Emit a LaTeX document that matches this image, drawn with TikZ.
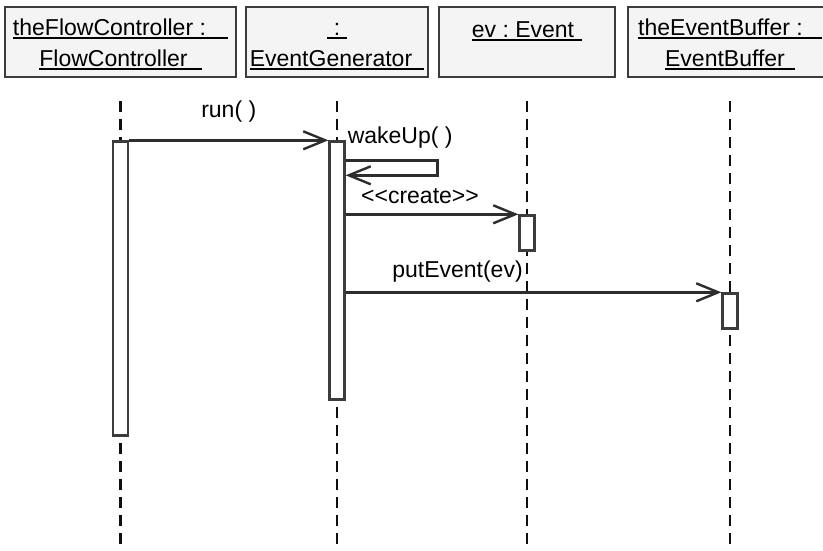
\documentclass[tikz,border=0pt]{standalone}
\usepackage{fontspec}
\setmainfont{Liberation Sans}
\usepackage{xcolor}
\usepackage{tikz}
\usetikzlibrary{positioning, arrows.meta, calc}
\definecolor{boxfill}{RGB}{244,244,244}
\definecolor{boxline}{RGB}{60,60,60}
\definecolor{msgline}{RGB}{45,45,45}
\definecolor{lifegray}{RGB}{15,15,15}
\frenchspacing

% underlined object names (with underlined trailing space)
\newsavebox\ulbox
\newcommand{\ulx}[2][0pt]{\sbox\ulbox{#2\hspace{#1}}%
  \rlap{\rule[-3.8pt]{\wd\ulbox}{1.9pt}}\usebox\ulbox}

\begin{document}
\begin{tikzpicture}[x=1pt, y=-1pt,
  obj/.style={rectangle, draw=boxline, fill=boxfill, line width=2.6pt,
              minimum height=70pt, inner sep=0pt,
              align=center, font=\fontsize{23}{31}\selectfont},
  act/.style={rectangle, draw=boxline, fill=white, line width=2.2pt,
              minimum width=15pt, inner sep=0pt},
  life/.style={draw=lifegray, line width=2.8pt, dash pattern=on 11pt off 7pt},
  msg/.style={-{Straight Barb[length=22pt, width=18pt]}, line width=2.4pt, draw=msgline},
  lbl/.style={font=\fontsize{23}{27}\selectfont, inner sep=0pt}
]
\useasboundingbox (0,0) rectangle (823,550);
\clip (0,0) rectangle (823,550);

% Object boxes
\node[obj, minimum width=231pt] (flow) at (120.5,42)
  {\rule{0pt}{21pt}\ulx[22pt]{theFlowController :}\\\ulx[14pt]{FlowController}};
\node[obj, minimum width=182pt] (gen)  at (337,42)
  {\rule{0pt}{21pt}\ulx[7pt]{\hspace{7pt}:}\\\ulx[12pt]{EventGenerator}};
\node[obj, minimum width=176pt] (ev)   at (527,42)
  {\rule{0pt}{21pt}\ulx[8pt]{ev : Event}\\\phantom{E}};
\node[obj, minimum width=204pt] (buf)  at (730,42)
  {\rule{0pt}{21pt}\ulx[19pt]{theEventBuffer :}\\\ulx[10pt]{EventBuffer}};

% Lifelines
\foreach \o in {flow, gen, ev, buf}
  \draw[life] ([yshift=-23pt]\o.south) -- (\o.south |- 0,560);

% Activations
\node[act, minimum height=294pt, below=62pt of flow.south, anchor=north] (actflow) {};
\node[act, minimum height=258pt, below=62pt of gen.south, anchor=north] (actgen) {};
\node[act, minimum height=35pt, below=136pt of ev.south, anchor=north] (actev) {};
\node[act, minimum height=35pt, below=214pt of buf.south, anchor=north] (actbuf) {};

% run( )
\draw[msg] (actflow.north east) -- node[lbl, above=17pt]{run( )} (actgen.north west);

% wakeUp( ) self call
\node[lbl, anchor=base west] (wake) at ($(actgen.north east)+(2,3)$) {wakeUp( )};
\draw[msg] ([yshift=-20pt]actgen.north east) -- ++(92,0) -- ++(0,15)
  -- ([yshift=-35pt]actgen.north east);

% <<create>>
\draw[msg] (actgen.east |- actev.north) -- node[lbl, above=9pt, xshift=-12pt]{{<}{<}create{>}{>}} (actev.north west);

% putEvent(ev)
\draw[msg] (actgen.east |- actbuf.north) -- node[lbl, above=9pt, xshift=-76pt]{putEvent(ev)} (actbuf.north west);

\end{tikzpicture}
\end{document}
